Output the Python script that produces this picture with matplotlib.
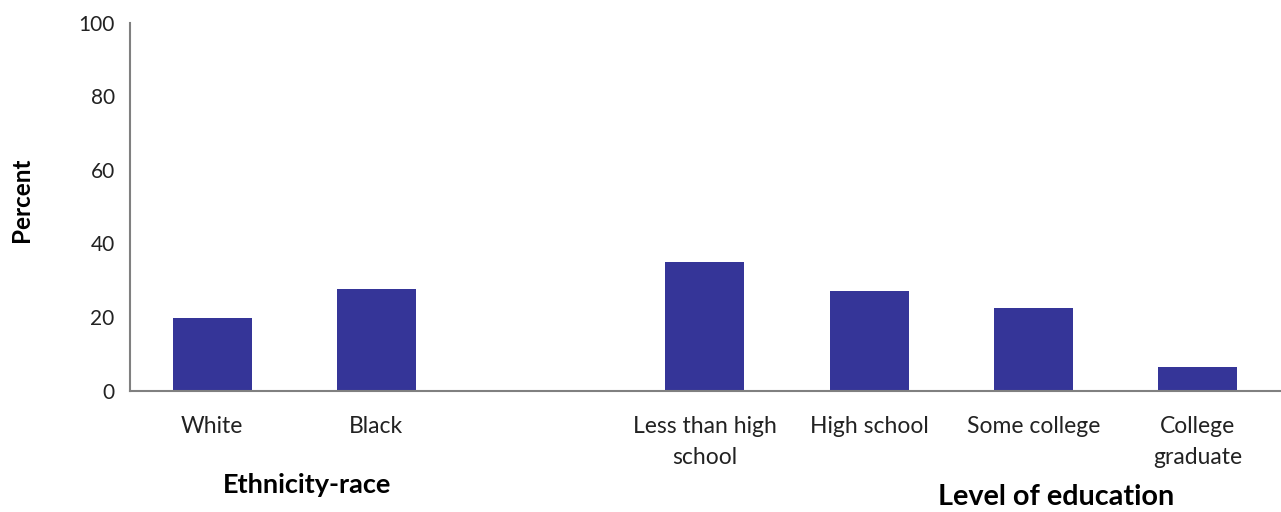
import numpy as np
import matplotlib.pyplot as plt

plt.rcParams['font.family'] = ['Lato', 'DejaVu Sans']

# Datos
eth_labels = ['White', 'Black']
eth_values = [19.7, 27.6]
edu_labels = ['Less than high\nschool', 'High school', 'Some college', 'College\ngraduate']
edu_values = [34.9, 27.0, 22.4, 6.4]

color_barra = '#353598'
color_eje = '#808080'

fig = plt.figure(figsize=(12.81, 5.12), dpi=100)
ax = fig.add_axes([0.1015, 0.237, 0.8975, 0.7187])

# posiciones: un hueco entre los dos grupos
x_eth = np.arange(len(eth_labels))
x_edu = len(eth_labels) + 1 + np.arange(len(edu_labels))

ax.bar(x_eth, eth_values, width=0.48, color=color_barra)
ax.bar(x_edu, edu_values, width=0.48, color=color_barra)

ax.set_xlim(-0.5, x_edu[-1] + 0.5)
ax.set_ylim(0, 100)
ax.set_yticks([0, 20, 40, 60, 80, 100])
ax.set_xticks(np.concatenate([x_eth, x_edu]))
ax.set_xticklabels(eth_labels + edu_labels, fontsize=16.5, linespacing=1.6, color='#222222')
ax.tick_params(axis='both', length=0, labelcolor='#222222')
ax.tick_params(axis='y', labelsize=15, pad=11)
ax.tick_params(axis='x', pad=18)

for s in ['top', 'right']:
    ax.spines[s].set_visible(False)
for s in ['left', 'bottom']:
    ax.spines[s].set_color(color_eje)
    ax.spines[s].set_linewidth(1.5)

fig.text(0.017, 0.61, 'Percent', rotation=90, fontsize=17.5, fontweight='bold',
         ha='center', va='center')
fig.text(307 / 1281, 1 - 485 / 512, 'Ethnicity-race', fontsize=19.5, fontweight='bold',
         ha='center', va='center')
fig.text(1056 / 1281, 1 - 497 / 512, 'Level of education', fontsize=20.7, fontweight='bold',
         ha='center', va='center')

plt.savefig('out.png', dpi=100)
